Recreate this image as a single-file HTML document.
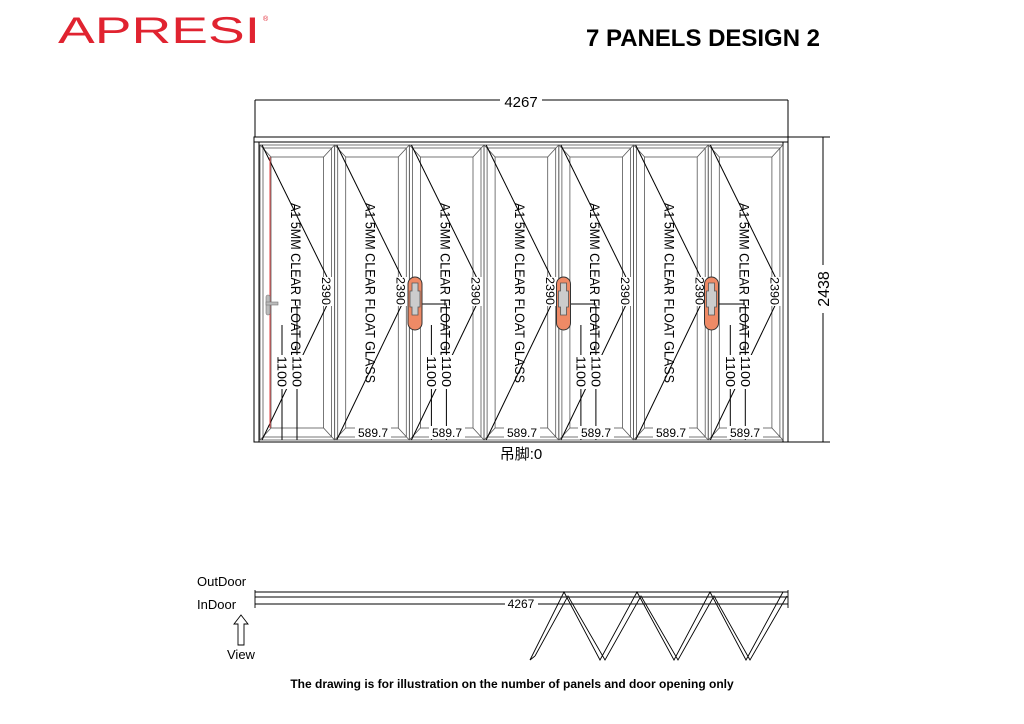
<!DOCTYPE html>
<html><head><meta charset="utf-8"><style>
html,body{margin:0;padding:0;background:#fff;}
svg{display:block;}
text{font-family:"Liberation Sans","Noto Sans CJK SC",sans-serif;}
</style></head><body>
<svg width="1024" height="724" viewBox="0 0 1024 724" xmlns="http://www.w3.org/2000/svg">
<defs>
<g id="panel" fill="none" stroke="#555" stroke-width="0.8">
  <rect x="0" y="145" width="74.6" height="295"/>
  <rect x="3" y="148" width="68.6" height="289"/>
  <rect x="11" y="157" width="52.6" height="271"/>
  <line x1="0" y1="145" x2="11" y2="157"/><line x1="74.6" y1="145" x2="63.6" y2="157"/>
  <line x1="0" y1="440" x2="11" y2="428"/><line x1="74.6" y1="440" x2="63.6" y2="428"/>
  <polyline points="2,145 67,277" stroke="#000" stroke-width="1"/>
  <polyline points="67,305 2,440" stroke="#000" stroke-width="1"/>
  <text x="0" y="0" transform="translate(31,203) rotate(90)" font-size="14" fill="#000" stroke="none" textLength="180" lengthAdjust="spacingAndGlyphs">A1 5MM CLEAR FLOAT GLASS</text>
  <rect x="60" y="277" width="13" height="29" fill="#fff" stroke="none"/>
  <text x="0" y="0" transform="translate(62,277) rotate(90)" font-size="12" fill="#000" stroke="none" textLength="28" lengthAdjust="spacingAndGlyphs">2390</text>
</g>
<g id="lock">
  <rect x="-7" y="277" width="14" height="53" rx="7" fill="#ee8a66" stroke="#333" stroke-width="1"/>
  <path d="M-3,283 h6 v8 h2 v16 h-2 v8 h-6 v-8 h-2 v-16 h2z" fill="#ccc" stroke="#555" stroke-width="0.8"/>
</g>
<g id="h1100" stroke="#000" stroke-width="1" fill="none">
  <line x1="22" y1="325" x2="22" y2="440"/>
  <line x1="37" y1="305" x2="37" y2="440"/>
  <rect x="15" y="355" width="30" height="34" fill="#fff" stroke="none"/>
  <text transform="translate(17.5,356) rotate(90)" font-size="13" fill="#000" stroke="none" textLength="31" lengthAdjust="spacingAndGlyphs">1100</text>
  <text transform="translate(32.5,356) rotate(90)" font-size="13" fill="#000" stroke="none" textLength="31" lengthAdjust="spacingAndGlyphs">1100</text>
</g>
</defs>
<text x="58" y="43" font-size="37" fill="#e02330" textLength="202" lengthAdjust="spacingAndGlyphs">APRESI</text>
<text x="263" y="21" font-size="7" fill="#e02330">®</text>
<text x="586" y="46" font-size="24" font-weight="bold" fill="#000" textLength="234" lengthAdjust="spacingAndGlyphs">7 PANELS DESIGN 2</text>

<g stroke="#000" stroke-width="1" fill="none">
  <line x1="255" y1="100" x2="500" y2="100"/><line x1="542" y1="100" x2="788" y2="100"/>
  <line x1="255" y1="100" x2="255" y2="137"/><line x1="788" y1="100" x2="788" y2="137"/>
  <rect x="254" y="137" width="534" height="305"/>
  <line x1="254" y1="142" x2="788" y2="142"/>
  <line x1="259" y1="142" x2="259" y2="442"/><line x1="783" y1="142" x2="783" y2="442"/>
  <line x1="788" y1="137" x2="830" y2="137"/><line x1="788" y1="442" x2="830" y2="442"/>
  <line x1="823" y1="137" x2="823" y2="265"/><line x1="823" y1="313" x2="823" y2="442"/>
</g>
<text x="521" y="107" font-size="15" text-anchor="middle">4267</text>
<text transform="translate(829,289) rotate(-90)" font-size="16" text-anchor="middle">2438</text>

<use href="#panel" x="260"/><use href="#panel" x="334.7"/><use href="#panel" x="409.4"/>
<use href="#panel" x="484.1"/><use href="#panel" x="558.9"/><use href="#panel" x="633.6"/>
<use href="#panel" x="708.3"/>
<line x1="270" y1="157" x2="270" y2="428" stroke="#e04040" stroke-width="1"/>
<rect x="266" y="295" width="4" height="20" rx="2" fill="#bbb" stroke="#777" stroke-width="0.6"/>
<rect x="266" y="302" width="12" height="3" fill="#bbb" stroke="#777" stroke-width="0.6"/>

<use href="#h1100" x="260"/><use href="#h1100" x="409.4"/><use href="#h1100" x="558.9"/><use href="#h1100" x="708.3"/>
<g stroke="#000"><line x1="422" y1="304" x2="447" y2="304"/><line x1="571" y1="304" x2="596" y2="304"/><line x1="719" y1="304" x2="745" y2="304"/></g>
<use href="#lock" x="415"/><use href="#lock" x="563.5"/><use href="#lock" x="711.5"/>

<g font-size="12" text-anchor="middle">
<rect x="355" y="426" width="36" height="13" fill="#fff"/><text x="373" y="437">589.7</text>
<rect x="429" y="426" width="36" height="13" fill="#fff"/><text x="447" y="437">589.7</text>
<rect x="504" y="426" width="36" height="13" fill="#fff"/><text x="522" y="437">589.7</text>
<rect x="578" y="426" width="36" height="13" fill="#fff"/><text x="596" y="437">589.7</text>
<rect x="653" y="426" width="36" height="13" fill="#fff"/><text x="671" y="437">589.7</text>
<rect x="727" y="426" width="36" height="13" fill="#fff"/><text x="745" y="437">589.7</text>
</g>
<text x="521" y="459" font-size="15" text-anchor="middle">吊脚:0</text>

<text x="197" y="586" font-size="13">OutDoor</text>
<text x="197" y="609" font-size="13">InDoor</text>
<text x="227" y="659" font-size="13">View</text>
<path d="M241,615 L248,624 L244,624 L244,645 L238,645 L238,624 L234,624 Z" fill="none" stroke="#000" stroke-width="0.9"/>
<g stroke="#000" stroke-width="0.9" fill="none">
  <line x1="255" y1="592" x2="788" y2="592"/>
  <line x1="255" y1="597" x2="788" y2="597"/>
  <line x1="255" y1="604" x2="505" y2="604"/><line x1="538" y1="604" x2="788" y2="604"/>
  <line x1="255" y1="590" x2="255" y2="608"/><line x1="788" y1="590" x2="788" y2="608"/>
  <polyline points="530,660 564,592 600,660 637,592 674,660 710,592 746,660 783,592"/>
  <polyline points="535,656 568,596 605,660 641,596 678,660 714,596 750,660 787,596"/>
  <polyline points="530,660 535,656 M600,660 605,660 M674,660 678,660 M746,660 750,660"/>
</g>
<text x="521" y="608" font-size="12" text-anchor="middle">4267</text>
<text x="512" y="688" font-size="12" font-weight="bold" text-anchor="middle">The drawing is for illustration on the number of panels and door opening only</text>
</svg>
</body></html>
